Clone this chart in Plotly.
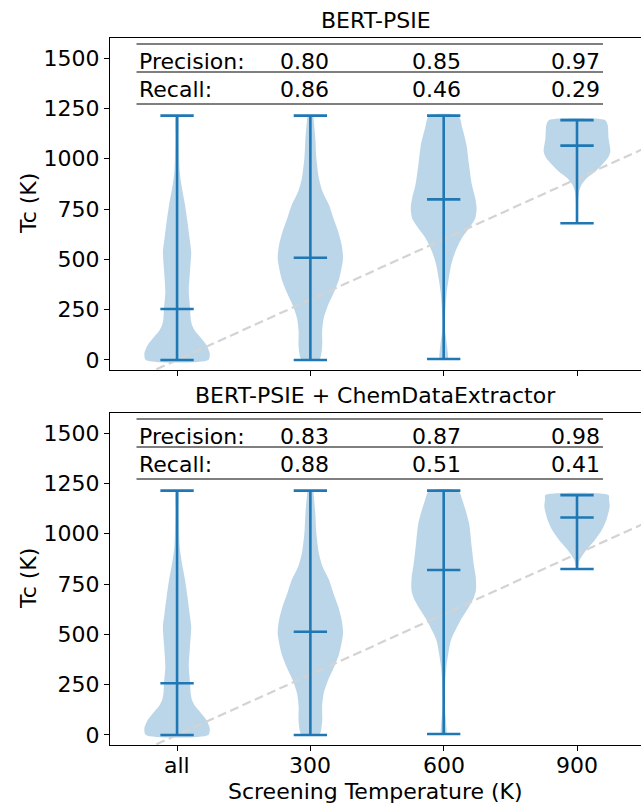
import plotly.graph_objects as go

# ---------------- data ----------------
categories = ['all', '300', '600', '900']
positions = [0, 1, 2, 3]

panel_titles = ['BERT-PSIE', 'BERT-PSIE + ChemDataExtractor']
row_labels = ['Precision:', 'Recall:']
precision_top = [0.80, 0.85, 0.97]
recall_top = [0.86, 0.46, 0.29]
precision_bot = [0.83, 0.87, 0.98]
recall_bot = [0.88, 0.51, 0.41]

top_min = [0, 0, 5, 679]
top_max = [1214, 1214, 1214, 1192]
top_median = [253, 508, 798, 1065]
bot_min = [0, 0, 5, 825]
bot_max = [1214, 1214, 1214, 1192]
bot_median = [257, 513, 820, 1081]

# violin outlines: Tc levels (K) and half widths (category units)
top_all_tc = [0, 33, 75, 108, 141, 174, 207, 257, 340, 440, 538, 604, 687, 770, 853, 935, 1100, 1214]
top_all_hw = [0.235, 0.245, 0.219, 0.181, 0.138, 0.112, 0.102, 0.098, 0.088, 0.097, 0.106, 0.094, 0.078, 0.06, 0.037, 0.02, 0.013, 0.01]
top_300_tc = [0, 20, 74, 141, 207, 273, 339, 406, 505, 571, 637, 704, 770, 836, 902, 1002, 1101, 1185, 1214]
top_300_hw = [0.065, 0.079, 0.089, 0.088, 0.10, 0.133, 0.179, 0.217, 0.245, 0.235, 0.209, 0.173, 0.14, 0.092, 0.064, 0.045, 0.037, 0.026, 0.02]
top_600_tc = [5, 41, 108, 157, 273, 339, 406, 472, 538, 604, 654, 704, 754, 803, 869, 969, 1068, 1151, 1214]
top_600_hw = [0.03, 0.03, 0.018, 0.008, 0.015, 0.023, 0.038, 0.056, 0.087, 0.135, 0.19, 0.237, 0.247, 0.237, 0.212, 0.19, 0.171, 0.14, 0.11]
top_900_tc = [679, 760, 836, 869, 902, 935, 969, 1002, 1035, 1101, 1167, 1192]
top_900_hw = [0.004, 0.006, 0.015, 0.033, 0.07, 0.135, 0.186, 0.23, 0.25, 0.237, 0.23, 0.21]

bot_all_tc = [0, 33, 75, 108, 141, 174, 207, 257, 340, 440, 538, 604, 687, 770, 853, 935, 1100, 1214]
bot_all_hw = [0.235, 0.245, 0.219, 0.181, 0.138, 0.112, 0.102, 0.098, 0.088, 0.097, 0.106, 0.094, 0.078, 0.06, 0.037, 0.02, 0.013, 0.01]
bot_300_tc = [0, 20, 74, 141, 207, 273, 339, 406, 505, 571, 637, 704, 770, 836, 902, 1002, 1101, 1185, 1214]
bot_300_hw = [0.065, 0.079, 0.089, 0.088, 0.10, 0.133, 0.179, 0.217, 0.245, 0.235, 0.209, 0.173, 0.14, 0.092, 0.064, 0.045, 0.037, 0.026, 0.02]
bot_600_tc = [5, 41, 108, 157, 273, 339, 406, 472, 571, 637, 680, 720, 787, 850, 935, 1052, 1168, 1214]
bot_600_hw = [0.02, 0.02, 0.012, 0.008, 0.012, 0.02, 0.035, 0.055, 0.128, 0.19, 0.225, 0.242, 0.24, 0.225, 0.21, 0.19, 0.14, 0.11]
bot_900_tc = [825, 836, 869, 919, 969, 1018, 1068, 1134, 1170, 1192]
bot_900_hw = [0.006, 0.01, 0.02, 0.07, 0.135, 0.186, 0.22, 0.245, 0.24, 0.237]

# reference line Tc = screening temperature (one category step = 300 K)
diag_temp = [-600, 1500]

# ---------------- style ----------------
C0 = '#1f77b4'
FILL = 'rgba(31,119,180,0.3)'
FONT = 'DejaVu Sans'
FS = 22
CAP = 0.125
K_PER_STEP = 300.0

fig = go.Figure()

panels = [
    dict(xa='x', ya='y',
         outlines=[(top_all_tc, top_all_hw), (top_300_tc, top_300_hw), (top_600_tc, top_600_hw), (top_900_tc, top_900_hw)],
         mn=top_min, mx=top_max, md=top_median, prec=precision_top, rec=recall_top),
    dict(xa='x2', ya='y2',
         outlines=[(bot_all_tc, bot_all_hw), (bot_300_tc, bot_300_hw), (bot_600_tc, bot_600_hw), (bot_900_tc, bot_900_hw)],
         mn=bot_min, mx=bot_max, md=bot_median, prec=precision_bot, rec=recall_bot),
]

for p in panels:
    # violin bodies
    for pos, (tc, hw) in zip(positions, p['outlines']):
        xs = [pos + h for h in hw] + [pos - h for h in hw[::-1]] + [pos + hw[0]]
        ys = list(tc) + list(tc[::-1]) + [tc[0]]
        fig.add_trace(go.Scatter(x=xs, y=ys, xaxis=p['xa'], yaxis=p['ya'], mode='lines',
                                 fill='toself', fillcolor=FILL,
                                 line=dict(width=0, shape='spline', smoothing=0.7, color=FILL),
                                 hoverinfo='skip', showlegend=False))
    # diagonal reference
    fig.add_trace(go.Scatter(x=[t / K_PER_STEP for t in diag_temp], y=diag_temp,
                             xaxis=p['xa'], yaxis=p['ya'], mode='lines',
                             line=dict(color='#d3d3d3', width=2.2, dash='9px,4.5px'),
                             hoverinfo='skip', showlegend=False))
    # extrema, medians and vertical bars
    bx, by = [], []
    for pos, lo, hi, med in zip(positions, p['mn'], p['mx'], p['md']):
        for v in (lo, hi, med):
            bx += [pos - CAP, pos + CAP, None]
            by += [v, v, None]
        bx += [pos, pos, None]
        by += [lo, hi, None]
    fig.add_trace(go.Scatter(x=bx, y=by, xaxis=p['xa'], yaxis=p['ya'], mode='lines',
                             line=dict(color=C0, width=2.6), hoverinfo='skip', showlegend=False))

# ---------------- layout ----------------
L, R, T, B = 110, 0, 38, 61
W, H = 641, 806
plot_h = H - T - B
panel_h = 332
top_dom = [1 - panel_h / plot_h, 1]
bot_dom = [0, panel_h / plot_h]
xr = [-0.503, 3.48]
yr = [-50, 1600]

axis_common = dict(showline=True, linecolor='black', linewidth=1.3, ticks='outside',
                   ticklen=5, tickwidth=1.3, tickcolor='black', showgrid=False, zeroline=False,
                   tickfont=dict(family=FONT, size=FS, color='black'))

fig.update_layout(
    width=W, height=H, margin=dict(l=L, r=R, t=T, b=B),
    paper_bgcolor='white', plot_bgcolor='white',
    font=dict(family=FONT, size=FS, color='black'),
    xaxis=dict(domain=[0, 1], range=xr, anchor='y', tickvals=positions, showticklabels=False,
               mirror=True, **axis_common),
    yaxis=dict(domain=top_dom, range=yr, anchor='x', tickvals=[0, 250, 500, 750, 1000, 1250, 1500],
               **axis_common),
    xaxis2=dict(domain=[0, 1], range=xr, anchor='y2', tickvals=positions, showticklabels=False,
                mirror=True, **axis_common),
    yaxis2=dict(domain=bot_dom, range=yr, anchor='x2', tickvals=[0, 250, 500, 750, 1000, 1250, 1500],
                **axis_common),
)

def px_to_paper_y(py):
    return (H - B - py) / plot_h

def px_to_paper_x(px):
    return (px - L) / (W - L - R)

ann = []
# subplot titles
ann.append(dict(text=panel_titles[0], x=0.5, y=px_to_paper_y(21), xref='paper', yref='paper',
                xanchor='center', yanchor='middle', showarrow=False, font=dict(size=FS)))
ann.append(dict(text=panel_titles[1], x=0.5, y=px_to_paper_y(396), xref='paper', yref='paper',
                xanchor='center', yanchor='middle', showarrow=False, font=dict(size=FS)))
# y titles
for cy in (204, 579):
    ann.append(dict(text='Tc (K)', x=px_to_paper_x(28), y=px_to_paper_y(cy), xref='paper', yref='paper',
                    xanchor='center', yanchor='middle', textangle=-90, showarrow=False, font=dict(size=FS)))
# x tick labels (bottom panel)
for pos, cat in zip(positions, categories):
    ann.append(dict(text=cat, x=pos, y=px_to_paper_y(765), xref='x2', yref='paper',
                    xanchor='center', yanchor='middle', showarrow=False, font=dict(size=FS)))
# x title
ann.append(dict(text='Screening Temperature (K)', x=0.5, y=px_to_paper_y(791), xref='paper', yref='paper',
                xanchor='center', yanchor='middle', showarrow=False, font=dict(size=FS)))

# tables (horizontal positions in pixels of the figure, vertical in data units)
tab_left = px_to_paper_x(136.5)
tab_right = px_to_paper_x(603)
val_right = [px_to_paper_x(330.5), px_to_paper_x(463), px_to_paper_x(602)]
row_tc = [1485, 1346]
line_tc = [1570, 1431, 1272]

shapes = []
for p in panels:
    for i, (lab, vals) in enumerate(zip(row_labels, (p['prec'], p['rec']))):
        ann.append(dict(text=lab, x=tab_left, y=row_tc[i], xref='paper', yref=p['ya'],
                        xanchor='left', yanchor='middle', showarrow=False, font=dict(size=FS)))
        for xv, v in zip(val_right, vals):
            ann.append(dict(text=f'{v:.2f}', x=xv, y=row_tc[i], xref='paper', yref=p['ya'],
                            xanchor='right', yanchor='middle', showarrow=False, font=dict(size=FS)))
    for lt in line_tc:
        shapes.append(dict(type='line', x0=tab_left, x1=tab_right, y0=lt, y1=lt,
                           xref='paper', yref=p['ya'], line=dict(color='#555555', width=1.4)))

fig.update_layout(annotations=ann, shapes=shapes)
fig.write_html('out.html', config={'displayModeBar': False},
               post_script="document.body.style.margin='0';document.body.style.overflow='hidden';")
